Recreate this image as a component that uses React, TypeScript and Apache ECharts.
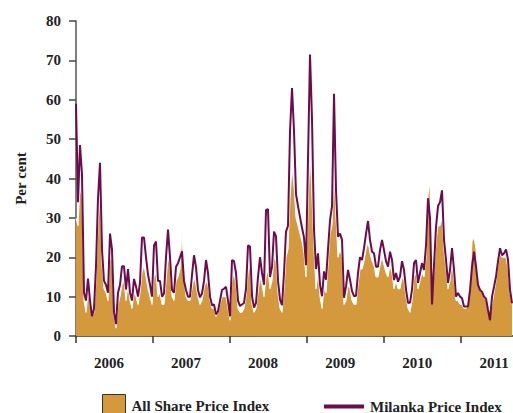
import React, { useEffect, useRef } from "react";
import * as echarts from "echarts";

// Sampling: one reading every STEP years starting at START_YEAR
const START_YEAR = 2006;
const STEP = 2 / 77;
const X_MAX = 2011.675;

const yearTicks = [2006, 2007, 2008, 2009, 2010, 2011];
const yTicks = [0, 10, 20, 30, 40, 50, 60, 70, 80];

const milanka = [
  // 2006
  59, 34, 48.5, 41, 11, 9, 14.6, 9, 5, 7, 17.7, 35, 44, 22, 14, 13, 11, 26, 22, 6, 3, 11, 13, 17.7, 17.7, 11.8, 17, 11, 9, 14.5, 12.6, 10, 13.5, 25, 25, 20, 15.6, 13, 10,
  // 2007
  23, 24, 14, 14, 10, 10.8, 20, 27, 20, 11.7, 11, 17.6, 18.5, 20, 21.5, 14, 11.7, 10, 10, 15.5, 20.5, 17.5, 11.7, 9.8, 10.8, 14, 19.3, 16, 10, 7.8, 8, 5.5, 6.3, 9, 11.7, 12, 12.5, 9, 5,
  // 2008
  19.3, 19, 16, 9, 7.6, 8, 8.4, 12, 23, 22.7, 10.1, 7.2, 8.4, 15, 20, 16, 13, 32, 32.2, 15, 17.6, 26.5, 25.3, 14, 9.3, 7.8, 16, 26.5, 28, 52, 63, 52, 36, 33, 30.2, 27.5, 25, 18,
  // 2009
  45, 71.5, 55, 27, 17, 21, 13, 10.1, 16.4, 14.3, 22, 29.4, 33, 61.5, 37, 25.2, 26, 24.4, 9.7, 12.6, 16.8, 14.3, 11.4, 10.1, 10.2, 16, 20, 19.3, 22.3, 26, 29.2, 24.4, 21.4, 21, 17.6, 17.6, 21.8, 24.4,
  // 2010
  21.8, 19, 17.6, 21.4, 19.3, 14.2, 16, 13.8, 15.1, 19, 16.8, 11.8, 8.4, 8.5, 11.8, 18.5, 19.3, 13.5, 16, 18.5, 16.8, 23, 35, 30, 8, 18, 27.7, 33, 34, 37, 24.4, 19.3, 13.5, 16.8, 22.3, 16.8, 10, 10.9,
  // 2011
  10, 9.6, 7.5, 7.5, 7.5, 11.7, 17.6, 21.4, 17.6, 13, 11.7, 11.2, 10, 9.5, 6.6, 4, 10, 12.5, 15.1, 19, 22.3, 20.5, 21, 22, 19.3, 11.7, 8.3,
];

const allShare = [
  // 2006
  30, 28, 38, 35, 9, 6, 11, 8, 5, 6, 14, 28, 36, 18, 12, 11, 9, 20, 19, 5, 2, 8, 10, 13, 14, 9, 13, 9, 7, 11, 10, 8, 11, 16, 18, 15, 12, 10, 8,
  // 2007
  15, 16, 10, 11, 8, 8, 14, 20, 18, 10, 9, 14, 15, 17, 27, 15, 10, 9, 9, 12, 15, 13, 10, 8, 9, 12, 14, 13, 9, 7, 7, 5, 6, 8, 10, 10, 10, 7, 4,
  // 2008
  14, 16, 13, 7, 6, 6, 7, 10, 16, 18, 8, 6, 7, 11, 15, 13, 10, 15, 17, 12, 14, 20, 19, 11, 7, 6, 12, 20, 22, 35, 43, 38, 30, 28, 26, 24, 21, 15,
  // 2009
  32, 48, 35, 22, 12, 16, 10, 7, 12, 11, 18, 26, 28, 42, 30, 20, 22, 20, 8, 9, 13, 12, 9, 8, 8, 13, 17, 17, 19, 22, 24, 21, 19, 18, 15, 15, 18, 20,
  // 2010
  18, 16, 15, 18, 16, 12, 14, 12, 12, 15, 14, 10, 7, 6, 9, 15, 16, 12, 14, 16, 15, 20, 36, 39, 10, 16, 24, 28, 28, 30, 22, 17, 12, 14, 19, 14, 9, 9,
  // 2011
  8, 8, 7, 7, 8, 14, 24, 25, 22, 14, 12, 11, 10, 9, 7, 5, 8, 11, 14, 18, 21, 20, 20, 20, 17, 11, 8,
];

const SERIES_NAMES = ["All Share Price Index", "Milanka Price Index"];
const AREA_COLOR = "#D4993C";
const LINE_COLOR = "#6B0C4C";
const FONT = "Liberation Serif";

export default function App() {
  const ref = useRef<HTMLDivElement>(null);
  useEffect(() => {
    if (!ref.current) return;
    const chart = echarts.init(ref.current, null, { renderer: "svg" });
    const toPoints = (arr: number[]) => arr.map((v, i) => [START_YEAR + i * STEP, v]);
    const textStyle = { fontFamily: FONT, fontWeight: "bold" as const, fontSize: 15, color: "#222" };
    chart.setOption({
      animation: false,
      backgroundColor: "#fff",
      grid: { left: 76, top: 21, right: 0, bottom: 77 },
      xAxis: {
        type: "value",
        min: START_YEAR,
        max: X_MAX,
        axisLine: { show: true, onZero: false, lineStyle: { color: "#333", width: 1.5 } },
        axisTick: {
          show: true,
          customValues: yearTicks,
          length: 7,
          lineStyle: { color: "#333", width: 1.5 },
        },
        axisLabel: {
          customValues: yearTicks.map((y) => y + 0.43),
          formatter: (v: number) => String(Math.floor(v)),
          margin: 19,
          ...textStyle,
        },
        splitLine: { show: false },
      },
      yAxis: {
        type: "value",
        min: 0,
        max: 80,
        interval: 10,
        name: "Per cent",
        nameLocation: "middle",
        nameGap: 48,
        nameTextStyle: textStyle,
        axisLine: { show: true, lineStyle: { color: "#555", width: 1.5 } },
        axisTick: { show: true, length: 7, lineStyle: { color: "#444", width: 1.5 } },
        axisLabel: { margin: 15, ...textStyle },
        splitLine: { show: false },
      },
      legend: [
        {
          data: [
            {
              name: SERIES_NAMES[0],
              icon: "rect",
              itemStyle: { color: AREA_COLOR, borderColor: "#333", borderWidth: 1 },
            },
          ],
          left: 102,
          top: 394,
          itemWidth: 23,
          itemHeight: 22,
          itemGap: 0,
          padding: 0,
          textStyle: { ...textStyle, color: "#222", padding: [0, 0, 0, 1] },
          selectedMode: false,
        },
        {
          data: [
            {
              name: SERIES_NAMES[1],
              icon: "rect",
              itemStyle: { color: LINE_COLOR, borderWidth: 0 },
            },
          ],
          left: 324,
          top: 399,
          itemWidth: 40,
          itemHeight: 4,
          padding: 0,
          textStyle: { ...textStyle, color: "#222", padding: [0, 0, 0, 1] },
          selectedMode: false,
        },
      ],
      series: [
        {
          name: SERIES_NAMES[0],
          type: "line",
          data: toPoints(allShare),
          showSymbol: false,
          itemStyle: { color: AREA_COLOR },
          lineStyle: { color: "#ffffff", width: 1 },
          areaStyle: { color: AREA_COLOR, opacity: 1 },
          z: 1,
        },
        {
          name: SERIES_NAMES[1],
          type: "line",
          data: toPoints(milanka),
          showSymbol: false,
          itemStyle: { color: LINE_COLOR },
          lineStyle: { color: LINE_COLOR, width: 2 },
          z: 2,
        },
      ],
    });
    return () => chart.dispose();
  }, []);
  return <div ref={ref} style={{ width: 513, height: 413, position: "absolute", left: 0, top: 0 }} />;
}
